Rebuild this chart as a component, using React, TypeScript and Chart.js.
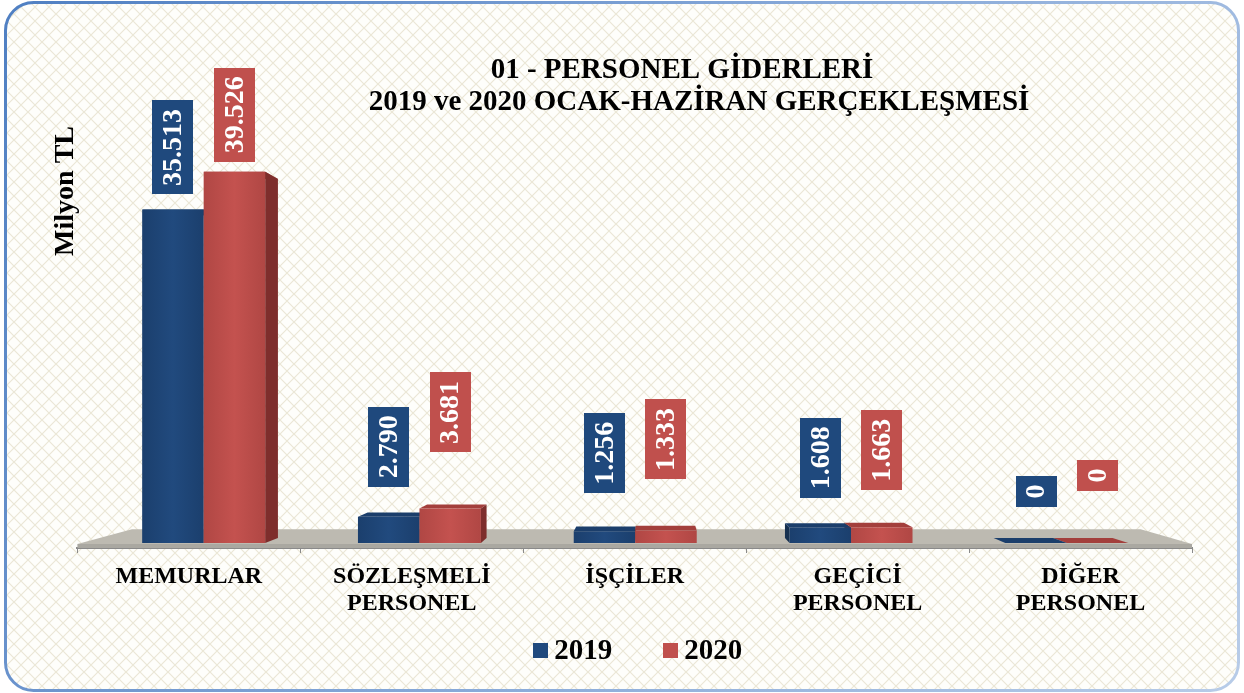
import React, { useEffect, useRef } from 'react';
import { Chart, registerables } from 'chart.js';

Chart.register(...registerables);

// ---- data ----
const categories: string[][] = [
  ['MEMURLAR'],
  ['SÖZLEŞMELİ', 'PERSONEL'],
  ['İŞÇİLER'],
  ['GEÇİCİ', 'PERSONEL'],
  ['DİĞER', 'PERSONEL'],
];
const values2019 = [35513, 2790, 1256, 1608, 0];
const values2020 = [39526, 3681, 1333, 1663, 0];
const seriesNames = ['2019', '2020'];
const titleLines = ['01 - PERSONEL GİDERLERİ', '2019 ve 2020 OCAK-HAZİRAN GERÇEKLEŞMESİ'];
const yAxisTitle = 'Milyon TL';
// vertical lift (px) of each value box above its bar top
const labelLift2019 = [15, 30, 38, 30, 36];
const labelLift2020 = [10, 56, 51, 37, 52];

const SERIF = '"Liberation Serif", "Times New Roman", serif';

const palettes = [
  { front: '#214A7E', edge: '#1b3f6d', side: '#16304f', top: '#1b3e6b', box: '#1F497D' },
  { front: '#C4524F', edge: '#b04744', side: '#7e2e2c', top: '#a33f3c', box: '#C0504D' },
];

const fmt = (v: number) => String(v).replace(/\B(?=(\d{3})+(?!\d))/g, '.');

type Pt = [number, number];

const poly = (ctx: CanvasRenderingContext2D, pts: Pt[], fill: string | CanvasGradient) => {
  ctx.beginPath();
  ctx.moveTo(pts[0][0], pts[0][1]);
  for (let i = 1; i < pts.length; i++) ctx.lineTo(pts[i][0], pts[i][1]);
  ctx.closePath();
  ctx.fillStyle = fill;
  ctx.fill();
};

const bgPlugin = {
  id: 'bgPlugin',
  beforeDraw(chart: any) {
    const { ctx, width, height } = chart;
    ctx.save();
    ctx.fillStyle = '#ffffff';
    ctx.fillRect(0, 0, width, height);
    const x = 5.5, y = 2.5, w = width - 11, h = height - 5, r = 28;
    ctx.beginPath();
    ctx.roundRect(x, y, w, h, r);
    ctx.save();
    ctx.clip();
    const tile = document.createElement('canvas');
    tile.width = 14;
    tile.height = 14;
    const tc = tile.getContext('2d')!;
    tc.fillStyle = '#fefefb';
    tc.fillRect(0, 0, 14, 14);
    tc.strokeStyle = '#ebe7d6';
    tc.lineWidth = 1.2;
    tc.beginPath();
    tc.moveTo(0, 0); tc.lineTo(14, 14);
    tc.moveTo(14, 0); tc.lineTo(0, 14);
    tc.stroke();
    const pat = ctx.createPattern(tile, 'repeat');
    ctx.fillStyle = pat;
    ctx.fillRect(0, 0, width, height);
    ctx.restore();
    const g = ctx.createLinearGradient(0, 0, width, height);
    g.addColorStop(0, '#4f7fc2');
    g.addColorStop(0.5, '#86a8d8');
    g.addColorStop(1, '#b8cce8');
    ctx.strokeStyle = g;
    ctx.lineWidth = 3;
    ctx.beginPath();
    ctx.roundRect(x, y, w, h, r);
    ctx.stroke();
    ctx.restore();
  },
};

const threeDPlugin = {
  id: 'threeDPlugin',
  beforeDatasetsDraw(chart: any) {
    const ctx: CanvasRenderingContext2D = chart.ctx;
    const area = chart.chartArea;
    const yScale = chart.scales.y;
    const B = yScale.getPixelForValue(0);
    const vx = area.left + (area.right - area.left) * 0.515;
    const vy = B - 158;
    const P = (x: number, y: number, t: number): Pt => [x + (vx - x) * t, y + (vy - y) * t];
    ctx.save();

    // floor
    const fT = 0.095;
    const fy = B - 4;
    const fl: Pt = [area.left, fy];
    const fr: Pt = [area.right, fy];
    poly(ctx, [fl, fr, P(area.right, fy, fT), P(area.left, fy, fT)], '#bdbab1');
    ctx.fillStyle = '#aaa8a1';
    ctx.fillRect(area.left, fy, area.right - area.left, B - fy);

    // bars
    const t1 = 0.032, t2 = 0.064;
    const items: any[] = [];
    chart.data.datasets.forEach((ds: any, d: number) => {
      const meta = chart.getDatasetMeta(d);
      meta.data.forEach((el: any, i: number) => {
        const p = el.getProps(['x', 'y', 'base', 'width'], true);
        items.push({ d, i, ...p, value: ds.data[i] });
      });
    });
    items.sort((a, b) => Math.abs(b.x - vx) - Math.abs(a.x - vx));
    for (const it of items) {
      const pal = palettes[it.d];
      const xl = it.x - it.width / 2, xr = it.x + it.width / 2;
      const fTL = P(xl, it.y, t1), fTR = P(xr, it.y, t1), fBR = P(xr, it.base, t1), fBL = P(xl, it.base, t1);
      const kTL = P(xl, it.y, t2), kTR = P(xr, it.y, t2), kBR = P(xr, it.base, t2), kBL = P(xl, it.base, t2);
      poly(ctx, [fTL, fTR, kTR, kTL], pal.top);
      if (it.x < vx) poly(ctx, [fTR, kTR, kBR, fBR], pal.side);
      else poly(ctx, [fTL, kTL, kBL, fBL], pal.side);
      if (fBL[1] - fTL[1] > 0.5) {
        const g = ctx.createLinearGradient(fTL[0], 0, fTR[0], 0);
        g.addColorStop(0, pal.edge);
        g.addColorStop(0.5, pal.front);
        g.addColorStop(1, pal.edge);
        poly(ctx, [fTL, fTR, fBR, fBL], g);
      }
    }

    // value boxes
    const lifts = [labelLift2019, labelLift2020];
    ctx.font = `bold 28px ${SERIF}`;
    for (const it of items) {
      const pal = palettes[it.d];
      const txt = fmt(it.value);
      const tw = ctx.measureText(txt).width;
      const bh = tw + 17;
      const bw = 41;
      const [cx, ty] = P(it.x, it.y, t1);
      const bottom = ty - lifts[it.d][it.i];
      ctx.fillStyle = pal.box;
      ctx.fillRect(Math.round(cx - bw / 2), Math.round(bottom - bh), bw, Math.round(bh));
      ctx.save();
      ctx.translate(cx, bottom - bh / 2);
      ctx.rotate(-Math.PI / 2);
      ctx.fillStyle = '#ffffff';
      ctx.textAlign = 'center';
      ctx.textBaseline = 'middle';
      ctx.fillText(txt, 0, 1);
      ctx.restore();
    }
    ctx.restore();
    return false;
  },
};

const titlePlugin = {
  id: 'titlePlugin',
  afterDraw(chart: any) {
    const ctx: CanvasRenderingContext2D = chart.ctx;
    ctx.save();
    ctx.font = `bold 29px ${SERIF}`;
    ctx.fillStyle = '#000000';
    ctx.textAlign = 'center';
    ctx.textBaseline = 'alphabetic';
    ctx.fillText(titleLines[0], 682, 78);
    ctx.fillText(titleLines[1], 699, 110);
    ctx.restore();
  },
};

const legendPlugin = {
  id: 'legendPlugin',
  afterDraw(chart: any) {
    const ctx: CanvasRenderingContext2D = chart.ctx;
    const area = chart.chartArea;
    ctx.save();
    ctx.font = `bold 29px ${SERIF}`;
    ctx.textBaseline = 'alphabetic';
    ctx.textAlign = 'left';
    const box = 15, gapBT = 6, gapItems = 51;
    const entries = chart.data.datasets.map((ds: any) => ({
      text: ds.label as string,
      color: ds.backgroundColor as string,
      w: box + gapBT + ctx.measureText(ds.label).width,
    }));
    const total = entries.reduce((s: number, e: any) => s + e.w, 0) + gapItems * (entries.length - 1);
    let x = (area.left + area.right) / 2 + 3 - total / 2;
    const baseline = 659;
    for (const e of entries) {
      ctx.fillStyle = e.color;
      ctx.fillRect(Math.round(x), baseline - 16, box, box);
      ctx.fillStyle = '#000000';
      ctx.fillText(e.text, x + box + gapBT, baseline);
      x += e.w + gapItems;
    }
    ctx.restore();
  },
};

export default function App() {
  const ref = useRef<HTMLCanvasElement | null>(null);
  useEffect(() => {
    document.body.style.margin = '0';
    const canvas = ref.current!;
    const chart = new Chart(canvas, {
      type: 'bar',
      data: {
        labels: categories as any,
        datasets: [
          { label: seriesNames[0], data: values2019, backgroundColor: palettes[0].box, borderWidth: 0 },
          { label: seriesNames[1], data: values2020, backgroundColor: palettes[1].box, borderWidth: 0 },
        ],
      },
      options: {
        animation: false,
        responsive: false,
        devicePixelRatio: 1,
        layout: { padding: { left: 55, right: 52, top: 126, bottom: 66 } },
        datasets: { bar: { barPercentage: 1, categoryPercentage: 0.57 } } as any,
        scales: {
          x: {
            z: 1,
            grid: { display: true, drawOnChartArea: false, drawTicks: true, tickLength: 5, color: '#8a8a8a', offset: true },
            border: { display: true, color: '#8a8a8a', width: 2 },
            ticks: {
              font: { family: SERIF, size: 24, weight: 'bold', lineHeight: 1.125 },
              color: '#000000',
              padding: 10,
              maxRotation: 0,
              autoSkip: false,
            },
          },
          y: {
            min: 0,
            max: 43500,
            grid: { display: false, drawTicks: false },
            border: { display: false },
            ticks: { display: false },
            title: {
              display: true,
              text: yAxisTitle,
              align: 'end',
              font: { family: SERIF, size: 28, weight: 'bold', lineHeight: 0.8 },
              color: '#000000',
              padding: 0,
            },
          },
        },
        plugins: {
          legend: { display: false },
          tooltip: { enabled: false },
          title: { display: false },
        },
      } as any,
      plugins: [bgPlugin, threeDPlugin, titlePlugin, legendPlugin],
    });
    return () => chart.destroy();
  }, []);
  return <canvas ref={ref} width={1244} height={693} style={{ display: 'block' }} />;
}
